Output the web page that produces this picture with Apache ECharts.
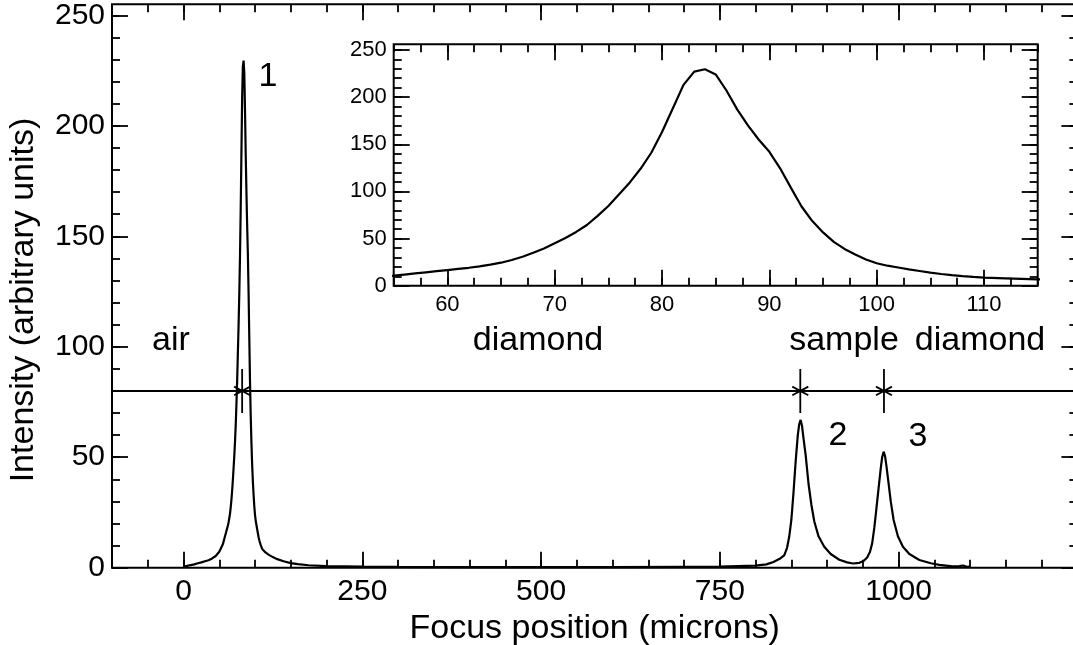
<!DOCTYPE html>
<html>
<head>
<meta charset="utf-8">
<script src="https://cdn.jsdelivr.net/npm/echarts@6/dist/echarts.min.js"></script>
<style>
  html, body { margin: 0; padding: 0; background: #fff; }
  #chart { width: 1073px; height: 645px; }
</style>
</head>
<body>
<div id="chart"></div>
<script>
// Focal scan through the cell: focus position (microns) vs. intensity (arbitrary units)
const focusPos = [
  0, 5, 10, 15, 20, 25, 30, 35, 40, 45, 50,
  55, 56, 57, 58, 59, 60, 61, 62, 63, 64, 65, 66, 67, 68, 69, 70,
  71, 72, 73, 74, 75, 76, 77, 78, 79, 80, 81, 82, 83, 84, 85,
  86, 87, 88, 89, 90, 91, 92, 93, 94, 95, 96, 97, 98, 99, 100,
  101, 102, 103, 104, 105, 106, 107, 108, 109, 110, 112, 115,
  120, 125, 130, 140, 150, 160, 175, 200, 250, 300, 400, 500, 600, 700, 750,
  800, 815, 825, 835, 840, 844, 847, 850, 853, 856, 859, 861, 863, 865, 867,
  870, 874, 878, 882, 888, 896, 905, 917, 928, 936, 945, 951, 956, 960, 963,
  966, 969, 972, 975, 977, 979, 981, 983, 986, 989, 993, 999, 1006, 1015,
  1029, 1045, 1057, 1075, 1085, 1090, 1095, 1100
];
const intensity = [
  0.5, 0.8, 1.2, 1.5, 2.0, 2.4, 2.9, 3.4, 4.2, 5.3, 7.2,
  10.6, 11.8, 13.0, 14.2, 15.4, 16.6, 17.8, 19.0, 20.5, 22.4, 24.4, 27.3, 30.7, 34.9, 39.5, 45.0,
  50.5, 57.0, 64.4, 74.0, 84.5, 97.0, 109.5, 124.0, 141.0, 163.0, 188.0, 213.0, 227.0, 229.5, 224.0,
  207.0, 187.0, 170.0, 155.0, 142.0, 124.5, 104.0, 84.0, 68.5, 56.5, 46.5, 39.0, 33.0, 27.8, 23.8,
  21.2, 19.3, 17.4, 15.6, 13.8, 12.4, 11.2, 10.2, 9.3, 8.5, 7.8, 6.8,
  5.7, 4.8, 4.0, 2.9, 2.1, 1.6, 1.1, 0.7, 0.5, 0.4, 0.3, 0.3, 0.3, 0.4, 0.5,
  0.9, 1.5, 2.6, 4.3, 5.6, 9.0, 14.0, 21.6, 34.0, 48.0, 60.0, 65.0, 66.9, 64.0, 58.5,
  51.0, 38.0, 28.5, 21.0, 14.2, 9.5, 6.2, 3.6, 2.4, 1.9, 2.2, 3.0, 4.6, 7.2, 11.0,
  18.0, 27.0, 36.0, 45.0, 50.0, 52.5, 50.5, 46.0, 38.0, 30.0, 21.6, 14.2, 9.5, 6.2,
  3.5, 2.0, 1.3, 0.6, 0.7, 1.0, 0.4, 0.5
];

// Interface positions (peak centres) and the level of the guide line
const interfacePos = [82, 862.5, 979.5];
const interfaceLevel = 80;

// Axis ranges and labelled ticks
const mainXRange = [-100, 1250];
const mainYRange = [0, 255];
const mainXTicks = [0, 250, 500, 750, 1000];
const mainYTicks = [0, 50, 100, 150, 200, 250];
const insetXRange = [55, 115];
const insetYRange = [0, 256];
const insetXTicks = [60, 70, 80, 90, 100, 110];
const insetYTicks = [0, 50, 100, 150, 200, 250];

// Region names and peak numbers
const regionNames = ['air', 'diamond', 'sample', 'diamond'];
const peakNames = ['1', '2', '3'];

const FONT = "'Liberation Sans', Arial, Helvetica, sans-serif";

function stepValues(from, to, step) {
  const out = [];
  for (let v = from; v <= to + 1e-9; v += step) out.push(Math.round(v * 1000) / 1000);
  return out;
}

function tickAxis(gridIndex, position, range, values, len, label) {
  const ax = {
    type: 'value',
    gridIndex: gridIndex,
    position: position,
    min: range[0],
    max: range[1],
    axisLine: { show: false, onZero: false },
    splitLine: { show: false },
    axisTick: {
      show: true, inside: true, length: len, customValues: values,
      lineStyle: { color: '#000', width: 1.8 }
    },
    axisLabel: { show: false }
  };
  if (label) {
    ax.axisLabel = {
      show: true, customValues: values, color: '#000',
      fontFamily: FONT, fontSize: label.size, margin: label.margin,
      formatter: v => String(v)
    };
  }
  return ax;
}

const mainXMinor = stepValues(mainXRange[0], mainXRange[1], 50);
const mainYMinor = stepValues(0, 250, 10);
const insetXMinor = stepValues(insetXRange[0], insetXRange[1], 2.5);
const insetYMinor = stepValues(0, 250, 10);

const xAxes = [
  tickAxis(0, 'bottom', mainXRange, mainXTicks, 16, { size: 30, margin: 9 }),
  tickAxis(0, 'bottom', mainXRange, mainXMinor, 8),
  tickAxis(0, 'top', mainXRange, mainXTicks, 16),
  tickAxis(0, 'top', mainXRange, mainXMinor, 8),
  tickAxis(1, 'bottom', insetXRange, insetXTicks, 16, { size: 22, margin: 8 }),
  tickAxis(1, 'bottom', insetXRange, insetXMinor, 8),
  tickAxis(1, 'top', insetXRange, insetXTicks, 16),
  tickAxis(1, 'top', insetXRange, insetXMinor, 8)
];
Object.assign(xAxes[0], {
  name: 'Focus position (microns)',
  nameLocation: 'middle',
  nameGap: 39,
  nameTextStyle: { color: '#000', fontFamily: FONT, fontSize: 34 }
});

const yAxes = [
  tickAxis(0, 'left', mainYRange, mainYTicks, 16, { size: 30, margin: 7 }),
  tickAxis(0, 'left', mainYRange, mainYMinor, 8),
  tickAxis(0, 'right', mainYRange, mainYTicks, 16),
  tickAxis(0, 'right', mainYRange, mainYMinor, 8),
  tickAxis(1, 'left', insetYRange, insetYTicks, 16, { size: 22, margin: 7 }),
  tickAxis(1, 'left', insetYRange, insetYMinor, 8),
  tickAxis(1, 'right', insetYRange, insetYTicks, 16),
  tickAxis(1, 'right', insetYRange, insetYMinor, 8)
];

const curve = focusPos.map((x, i) => [x, intensity[i]]);

const textStyle = (txt, size) => ({
  text: txt, fill: '#000', fontFamily: FONT, fontSize: size,
  align: 'center', verticalAlign: 'middle',
  textAlign: 'center', textVerticalAlign: 'middle'
});

const regionAnchors = [[171, 341], [538, 341], [844, 341], [980, 341]];
const peakAnchors = [[268, 77], [838, 436], [918, 437]];

const graphics = [];
regionNames.forEach((t, i) => graphics.push({
  type: 'text', x: regionAnchors[i][0], y: regionAnchors[i][1], z: 100, style: textStyle(t, 34)
}));
peakNames.forEach((t, i) => graphics.push({
  type: 'text', x: peakAnchors[i][0], y: peakAnchors[i][1], z: 100, style: textStyle(t, 34)
}));
graphics.push({
  type: 'text', x: 23.4, y: 300, rotation: Math.PI / 2, z: 100,
  style: textStyle('Intensity (arbitrary units)', 34)
});

// Interface marker: vertical bar with a cross, in a square box so strokes keep their width
const interfaceSymbol = 'path://M22 0L22 44M14 17.7L30 26.3M14 26.3L30 17.7M0 22L44 22';

const chart = echarts.init(document.getElementById('chart'), null, { renderer: 'canvas' });
chart.setOption({
  backgroundColor: '#fff',
  animation: false,
  grid: [
    { left: 112, top: 4.3, width: 965.4, height: 563.4, show: true,
      borderColor: '#000', borderWidth: 2, backgroundColor: 'transparent',
      outerBoundsMode: 'none', containLabel: false },
    { left: 393.7, top: 44.3, width: 644, height: 241.4, show: true,
      borderColor: '#000', borderWidth: 2, backgroundColor: '#fff',
      outerBoundsMode: 'none', containLabel: false }
  ],
  xAxis: xAxes,
  yAxis: yAxes,
  series: [
    {
      name: 'scan',
      type: 'line',
      xAxisIndex: 0, yAxisIndex: 0,
      data: curve,
      showSymbol: false,
      clip: true,
      lineStyle: { color: '#000', width: 2.2 },
      z: 3
    },
    {
      name: 'interfaces',
      type: 'scatter',
      xAxisIndex: 0, yAxisIndex: 0,
      data: interfacePos.map(x => [x, interfaceLevel]),
      symbol: interfaceSymbol,
      symbolSize: 44,
      itemStyle: { color: 'rgba(0,0,0,0)', borderColor: '#000', borderWidth: 1.8, opacity: 1 },
      markLine: {
        silent: true,
        symbol: 'none',
        label: { show: false },
        lineStyle: { color: '#000', width: 1.8, type: 'solid' },
        data: [{ yAxis: interfaceLevel }]
      },
      z: 4
    },
    {
      name: 'scan (peak 1)',
      type: 'line',
      xAxisIndex: 4, yAxisIndex: 4,
      data: curve,
      showSymbol: false,
      clip: true,
      lineStyle: { color: '#000', width: 2.2 },
      z: 5
    }
  ],
  graphic: graphics
});
</script>
</body>
</html>
